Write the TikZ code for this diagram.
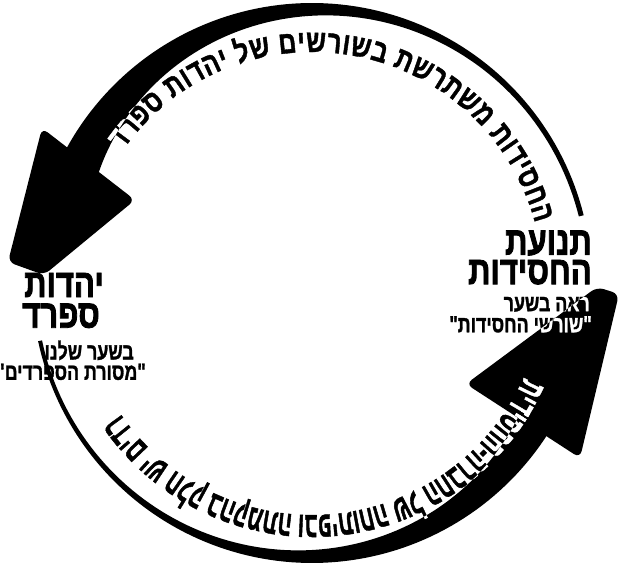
\documentclass[tikz,border=0pt]{standalone}
\usepackage{fontspec}
\usetikzlibrary{decorations.text, calc}
\TeXXeTstate=1
\newfontfamily\hebsmall[Script=Hebrew, FakeStretch=0.76, FakeBold=1.2]{Liberation Sans Bold}
\newfontfamily\hebheavy[Script=Hebrew, FakeStretch=0.78, FakeBold=2]{Liberation Sans Bold}
\newfontfamily\hebarc[Script=Hebrew, FakeStretch=0.78, FakeBold=1.2]{Liberation Sans Bold}
\newfontfamily\hebarcnarrow[Script=Hebrew, FakeStretch=0.56, FakeBold=1.2]{Liberation Sans Bold}

% inner radius of the two tapered arcs
\pgfmathdeclarefunction{topin}{1}{\pgfmathparse{275-35*((#1-14)/139)^2.5}}
\pgfmathdeclarefunction{lowin}{1}{\pgfmathparse{276-31*((#1-192)/137)^2.2}}

\newcommand\upperband{plot[domain=14:153, samples=90, variable=\a] ({312+280*cos(\a)}, {283+280*sin(\a)})
  -- plot[domain=153:14, samples=90, variable=\a] ({312+topin(\a)*cos(\a)}, {283+topin(\a)*sin(\a)}) -- cycle}
\newcommand\lowerband{plot[domain=192:329, samples=90, variable=\a] ({312+280*cos(\a)}, {283+280*sin(\a)})
  -- plot[domain=329:192, samples=90, variable=\a] ({312+lowin(\a)*cos(\a)}, {283+lowin(\a)*sin(\a)}) -- cycle}
\newcommand\upperhead{(42,438) -- (8,304) -- (44,291) -- (135,366) -- cycle}
\newcommand\lowerhead{(466,182) -- (597,279) -- (619,272) -- (580,108) -- cycle}

\newcommand\uppertext{דרפס תודהי לש םישרושב תשרתשמ תודיסחה}
\newcommand\lowertext{תידיסחה-הרבחה לש החותיפבו התמקהב קלח שי םידרפסל}

\tikzset{
  band/.style={fill=black},
  head/.style={fill=black, rounded corners=6pt},
  big_label/.style={font=\fontsize{34}{30}\selectfont\hebheavy, inner sep=0pt},
  small_label/.style={font=\fontsize{20}{20}\selectfont\hebsmall, inner sep=0pt},
  upper_arc/.style={decorate, decoration={text along path, text align=fit to path,
      text={|\fontsize{27}{27}\selectfont\hebarc#1|\uppertext}}},
  lower_arc/.style={decorate, decoration={text along path, text align=fit to path,
      text={|\fontsize{31}{31}\selectfont\hebarcnarrow#1|\lowertext}}}
}

\begin{document}
\begin{tikzpicture}[x=0.03cm, y=0.03cm]
  \useasboundingbox (0,0) rectangle (621,566);
  \fill[white] (0,0) rectangle (621,566);
  \coordinate (C) at (312,283);

  % --- Arrows ---
  \fill[band] \upperband;
  \fill[head] \upperhead;
  \fill[band] \lowerband;
  \fill[head] \lowerhead;

  % --- Curved texts ---
  \path[upper_arc={}] (C) ++(145:231) arc[start angle=145, end angle=15, radius=231];
  \path[lower_arc={}] (C) ++(336:232) arc[start angle=336, end angle=213, radius=232];

  % white letters where they cross the black bands
  \begin{scope}
    \clip \upperband;
    \path[upper_arc=\color{white}] (C) ++(145:231) arc[start angle=145, end angle=15, radius=231];
  \end{scope}
  \begin{scope}
    \clip \lowerband;
    \path[lower_arc=\color{white}] (C) ++(336:232) arc[start angle=336, end angle=213, radius=232];
  \end{scope}
  \begin{scope}
    \clip \lowerhead;
    \path[lower_arc=\color{white}] (C) ++(336:232) arc[start angle=336, end angle=213, radius=232];
  \end{scope}

  % --- Left labels ---
  \node[big_label, anchor=east] (yehadut) at (104,281) {\beginR יהדות\endR};
  \node[big_label, anchor=north east] (sfarad) at ($(yehadut.south east)+(-4,-6)$) {\beginR ספרד\endR};
  \node[small_label, anchor=north east] (left_a) at ($(sfarad.south east)+(34,-12)$) {\beginR בשער שלנו\endR};
  \node[small_label, anchor=north east] (left_b) at ($(left_a.south east)+(12,-3)$) {\beginR "מסורת הספרדים"\endR};

  % --- Right labels ---
  \node[big_label, anchor=east] (tnuat) at (592,323) {\beginR תנועת\endR};
  \node[big_label, anchor=north east] (hasidut) at ($(tnuat.south east)+(0,-4)$) {\beginR החסידות\endR};
  \node[small_label, anchor=north east] (right_a) at ($(hasidut.south east)+(-2,-12)$) {\beginR ראה בשער\endR};
  \node[small_label, anchor=north east] (right_b) at ($(right_a.south east)+(2,-4)$) {\beginR "שורשי החסידות"\endR};

  % labels drawn white over the right arrow head
  \begin{scope}
    \clip \lowerhead;
    \node[small_label, text=white, anchor=north east] at (right_a.north east) {\beginR ראה בשער\endR};
    \node[small_label, text=white, anchor=north east] at (right_b.north east) {\beginR "שורשי החסידות"\endR};
  \end{scope}
\end{tikzpicture}
\end{document}
